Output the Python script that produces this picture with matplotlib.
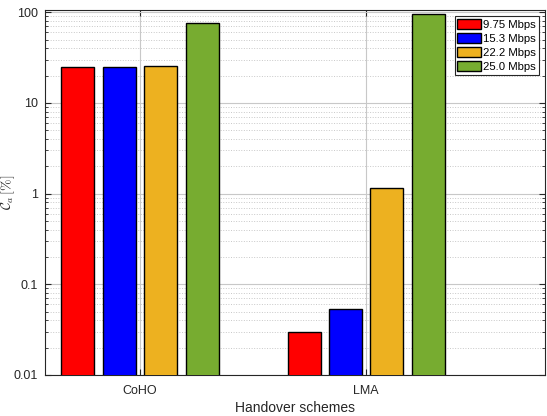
import numpy as np
import matplotlib
matplotlib.use("Agg")
import matplotlib.pyplot as plt
from matplotlib.ticker import LogLocator, NullFormatter, FixedLocator, FixedFormatter

plt.rcParams['font.family'] = ['Liberation Sans', 'DejaVu Sans']
plt.rcParams['mathtext.fontset'] = 'cm'

schemes = ['CoHO', 'LMA']
rates = ['9.75 Mbps', '15.3 Mbps', '22.2 Mbps', '25.0 Mbps']
colors = ['#FF0000', '#0000FF', '#EDB120', '#77AC30']
# outage [%] per data rate, one value per scheme
r975 = [25.1, 0.030]
r153 = [25.1, 0.053]
r222 = [25.4, 1.16]
r250 = [76.8, 95.0]
series = [r975, r153, r222, r250]

fig = plt.figure(figsize=(5.47, 4.16), dpi=100)
ax = fig.add_axes([0.0823, 0.0986, 0.9140, 0.8784])

x = np.arange(1, len(schemes) + 1)
pitch = 0.183
width = 0.146
for i, (vals, lab, col) in enumerate(zip(series, rates, colors)):
    ax.bar(x + (i - 1.5) * pitch, vals, width, color=col,
           edgecolor='black', linewidth=1.0, label=lab, zorder=3)

ax.set_yscale('log')
ax.set_ylim(0.01, 107)
ax.set_xlim(0.58, 2.79)
ax.yaxis.set_major_locator(FixedLocator([0.01, 0.1, 1, 10, 100]))
ax.yaxis.set_major_formatter(FixedFormatter(['0.01', '0.1', '1', '10', '100']))
ax.yaxis.set_minor_locator(LogLocator(base=10, subs=np.arange(2, 10), numticks=20))
ax.yaxis.set_minor_formatter(NullFormatter())
ax.set_xticks(x)
ax.set_xticklabels(schemes)

ax.grid(True, which='major', color='#c8c8c8', linewidth=0.8, linestyle='-', zorder=0)
ax.grid(True, which='minor', axis='y', color='#c8c8c8', linewidth=0.7, linestyle=':', zorder=0)
ax.tick_params(which='both', direction='in', top=True, right=True, labelsize=9, colors='#262626')
ax.tick_params(which='major', length=4)
ax.tick_params(which='minor', length=2)
ax.tick_params(axis='x', pad=7)
ax.tick_params(axis='y', pad=5)
for s in ax.spines.values():
    s.set_color('#262626')
    s.set_linewidth(0.8)

ax.set_xlabel('Handover schemes', fontsize=10, color='#262626', labelpad=3)
ax.set_ylabel(r'$\mathcal{C}_a\,[\%]$', fontsize=10, color='#262626')
ax.yaxis.set_label_coords(-0.056, 0.5)

leg = ax.legend(loc='upper right', fontsize=8.2, frameon=True, fancybox=False,
                edgecolor='#262626', handlelength=2.1, handleheight=0.95,
                handletextpad=0.15, borderpad=0.25, labelspacing=0.3,
                borderaxespad=0.55)
leg.get_frame().set_linewidth(0.8)
leg.get_frame().set_alpha(1)

fig.savefig('out.png', dpi=100)
